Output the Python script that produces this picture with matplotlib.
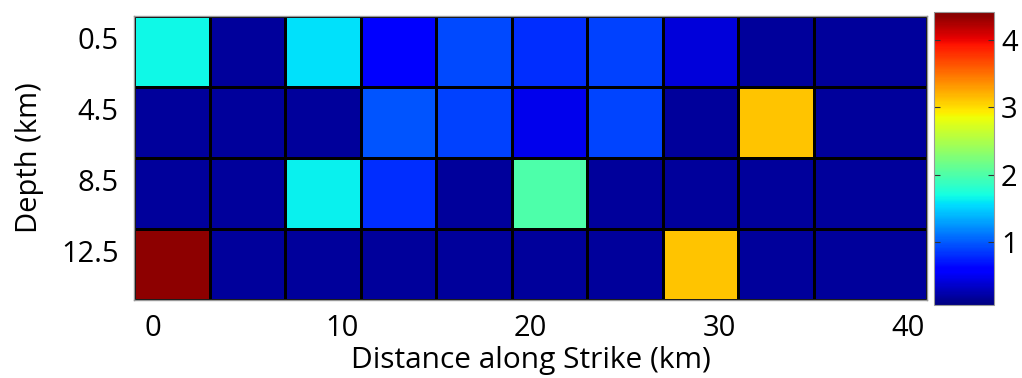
import matplotlib
matplotlib.use("Agg")
import matplotlib.pyplot as plt
import numpy as np

plt.rcParams['font.family'] = ['Open Sans', 'DejaVu Sans']

# cell edges (km)
x_edges = [-1, 3, 7, 11, 15, 19, 23, 27, 31, 35, 41]
y_edges = [-0.75, 3.25, 7.25, 11.25, 15.25]

depth_ticks = [0.5, 4.5, 8.5, 12.5]
dist_ticks = [0, 10, 20, 30, 40]
cbar_ticks = [1, 2, 3, 4]

# slip per cell, rows from shallow to deep
row_05 = [1.67, 0.18, 1.57, 0.58, 0.92, 0.80, 0.88, 0.42, 0.18, 0.18]
row_45 = [0.18, 0.18, 0.18, 0.98, 0.88, 0.48, 0.90, 0.17, 3.11, 0.18]
row_85 = [0.18, 0.18, 1.63, 0.80, 0.18, 2.00, 0.18, 0.18, 0.18, 0.18]
row_125 = [4.35, 0.18, 0.18, 0.17, 0.18, 0.18, 0.18, 3.12, 0.18, 0.18]

vmin, vmax = 0.064, 4.416

Z = np.array([row_05, row_45, row_85, row_125])

fig = plt.figure(figsize=(10.22, 3.78), dpi=100)
ax = fig.add_axes([0.1311, 0.2063, 0.7759, 0.7513])
mesh = ax.pcolormesh(x_edges, y_edges, Z, cmap='jet', vmin=vmin, vmax=vmax,
                     edgecolors='black', linewidth=0.8)
ax.set_xlim(x_edges[0], x_edges[-1])
ax.set_ylim(y_edges[-1], y_edges[0])
ax.set_xticks(dist_ticks)
ax.set_yticks(depth_ticks)
ax.set_yticklabels([str(d) for d in depth_ticks])
ax.tick_params(length=0, labelsize=21)
ax.tick_params(axis='x', pad=10)
ax.tick_params(axis='y', pad=11)
for s in ax.spines.values():
    s.set_color('#999999')
    s.set_linewidth(1)
ax.set_xlabel('Distance along Strike (km)', fontsize=21.5, labelpad=2)
ax.set_ylabel('Depth (km)', fontsize=21, labelpad=12)

cax = fig.add_axes([0.9139, 0.1931, 0.0587, 0.7751])
cb = fig.colorbar(mesh, cax=cax)
cb.set_ticks(cbar_ticks)
cax.tick_params(labelsize=21, direction='in', length=4, left=True, right=True,
                color='#333333', pad=5)
cb.outline.set_edgecolor('#999999')

fig.savefig('out.png', dpi=100)
